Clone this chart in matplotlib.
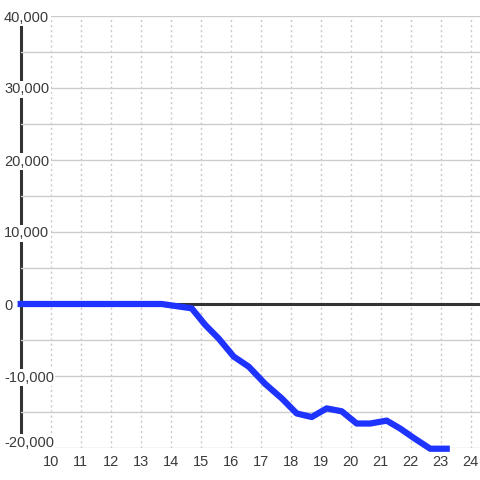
import matplotlib
matplotlib.use("Agg")
import matplotlib.pyplot as plt
from matplotlib.ticker import MultipleLocator, FuncFormatter
from matplotlib.transforms import ScaledTranslation

# 読み取った値（時刻・値）
hours = [9, 13.7, 14.2, 14.7, 15.15, 15.6, 16.1, 16.6, 17.15, 17.7, 18.2,
         18.7, 19.2, 19.7, 20.2, 20.65, 21.2, 21.65, 22.1, 22.65, 23.2]
values = [0, 0, -300, -600, -2900, -4800, -7300, -8700, -11100, -13100, -15200,
          -15700, -14500, -14900, -16600, -16600, -16200, -17300, -18600, -20100, -20100]
x_ticks = list(range(10, 25))

plt.rcParams['font.family'] = ['Liberation Sans', 'DejaVu Sans']

fig = plt.figure(figsize=(4.8, 4.8), dpi=100)
ax = fig.add_axes([20.7 / 480, 32 / 480, 1 - 20.7 / 480, 432 / 480])

ax.plot(hours, values, color='#1f33ff', lw=4.5, zorder=3, clip_on=False)
ax.axhline(0, color='#333333', lw=2.2, zorder=2)

ax.set_xlim(9, 9 + (480 - 20.7) / 30)
ax.set_ylim(-20000, 40000)

ax.set_xticks(x_ticks)
ax.yaxis.set_major_locator(MultipleLocator(10000))
ax.yaxis.set_minor_locator(MultipleLocator(5000))
ax.yaxis.set_major_formatter(FuncFormatter(lambda v, p: f"{int(v):,}"))

ax.grid(axis='y', which='both', color='#cccccc', lw=1)
ax.grid(axis='x', which='major', color='#c8c8c8', lw=1, linestyle=(0, (1.5, 2.2)))

for s in ['top', 'right', 'bottom']:
    ax.spines[s].set_visible(False)
ax.spines['left'].set_linewidth(2.2)
ax.spines['left'].set_color('#333333')
ax.spines['left'].set_zorder(1.4)

ax.tick_params(axis='both', which='both', length=0, labelsize=10.5, labelcolor='#3a3a3a')
ax.tick_params(axis='x', pad=5)
ax.tick_params(axis='y', pad=12)

# 一番下のラベルだけ少し上にずらす
fig.canvas.draw()
for lab in ax.get_yticklabels():
    lab.set_horizontalalignment('left')
    lab.set_bbox(dict(facecolor='white', edgecolor='none', pad=1))
    if lab.get_text() == '-20,000':
        lab.set_transform(lab.get_transform() + ScaledTranslation(0, 5 / 72, fig.dpi_scale_trans))

fig.savefig('out.png', dpi=100)
